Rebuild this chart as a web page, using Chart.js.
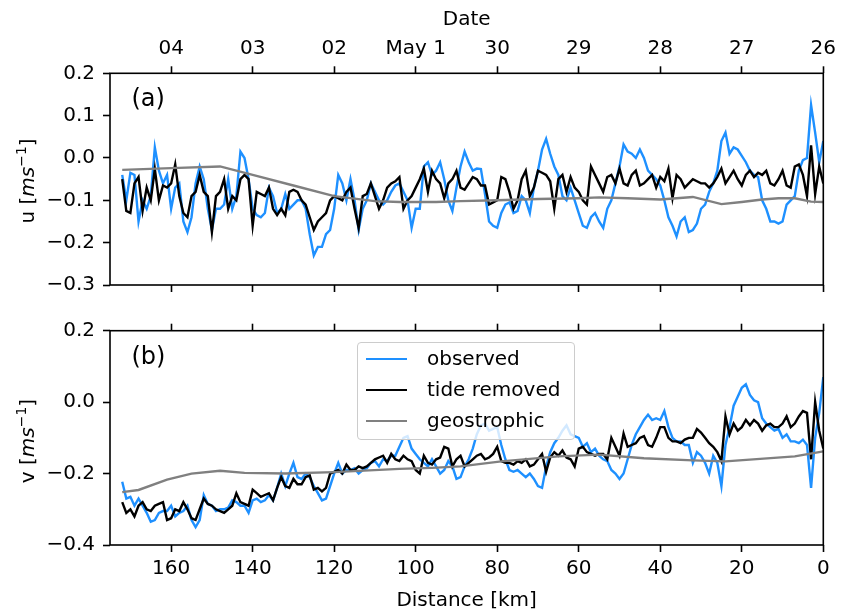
<!DOCTYPE html>
<html>
<head>
<meta charset="utf-8">
<script src="https://cdn.jsdelivr.net/npm/chart.js@4.4.0/dist/chart.umd.min.js"></script>
<style>
  body { margin: 0; background: #fff; }
  #wrap { position: relative; width: 850px; height: 609px; overflow: hidden; font-family: "DejaVu Sans", sans-serif; }
  canvas { position: absolute; left: 0; }
  .ytitle { position: absolute; transform: translate(-50%, -50%) rotate(-90deg); white-space: nowrap; font-size: 20px; line-height: 1; color: #000; }
  .ytitle sup { font-size: 14px; line-height: 0; }
  #legend { position: absolute; left: 357px; top: 342px; width: 218px; height: 98px; box-sizing: border-box;
            border: 1px solid #cccccc; border-radius: 4px; background: rgba(255,255,255,0.8); }
  .row { position: absolute; left: 0; height: 0; }
  .row .swatch { position: absolute; left: 8px; width: 41px; height: 2.4px; top: -1.2px; }
  .row .txt { position: absolute; left: 69px; top: -13px; font-size: 20px; line-height: 24px; white-space: nowrap; color: #000; }
</style>
</head>
<body>
<div id="wrap">
  <canvas id="chartU" width="850" height="305" style="top:0px"></canvas>
  <canvas id="chartV" width="850" height="304" style="top:305px"></canvas>
  <div class="ytitle" style="left:27px;top:181px">u [<i>ms</i><sup>−1</sup>]</div>
  <div class="ytitle" style="left:27px;top:441px">v [<i>ms</i><sup>−1</sup>]</div>
  <div id="legend"></div>
</div>
<script>
// distance along track, km (172 -> 0, one sample per km)
const distKm = Array.from({ length: 173 }, (_, i) => 172 - i);

// panel (a): u component
const uObserved = [
  -0.04, -0.10, -0.035, -0.04, -0.15, -0.10, -0.12, -0.09, 0.025, -0.03,
  -0.06, -0.04, -0.12, -0.07, -0.06, -0.15, -0.175, -0.14, -0.06, -0.02,
  -0.05, -0.12, -0.17, -0.12, -0.12, -0.11, -0.05, -0.12, -0.09, 0.015,
  0.0, -0.05, -0.12, -0.135, -0.14, -0.13, -0.07, -0.09, -0.13, -0.12,
  -0.085, -0.12, -0.11, -0.10, -0.10, -0.12, -0.18, -0.23, -0.21, -0.21,
  -0.18, -0.17, -0.12, -0.04, -0.06, -0.10, -0.05, -0.10, -0.17, -0.12,
  -0.10, -0.06, -0.08, -0.10, -0.11, -0.10, -0.08, -0.065, -0.06, -0.08,
  -0.10, -0.165, -0.12, -0.12, -0.02, -0.01, -0.04, -0.03, -0.01, -0.05,
  -0.10, -0.125, -0.07, -0.02, 0.015, -0.01, -0.03, -0.025, -0.026, -0.085,
  -0.15, -0.16, -0.165, -0.13, -0.11, -0.105, -0.13, -0.125, -0.09, -0.10,
  -0.13, -0.07, -0.03, 0.02, 0.045, 0.01, -0.02, -0.04, -0.09, -0.10,
  -0.07, -0.10, -0.13, -0.16, -0.165, -0.14, -0.13, -0.15, -0.165, -0.12,
  -0.10, -0.06, -0.02, 0.032, 0.015, 0.01, 0.0, 0.02, 0.0, -0.03,
  -0.04, -0.05, -0.065, -0.10, -0.14, -0.16, -0.185, -0.15, -0.14, -0.175,
  -0.17, -0.155, -0.12, -0.11, -0.08, -0.06, -0.03, 0.04, 0.06, 0.01,
  0.025, 0.02, 0.005, -0.01, -0.03, -0.04, -0.045, -0.10, -0.12, -0.15,
  -0.15, -0.155, -0.15, -0.11, -0.10, -0.09, -0.03, -0.005, 0.0, 0.125,
  0.06, -0.01, 0.04
];
const uTideRemoved = [
  -0.05, -0.125, -0.13, -0.06, -0.045, -0.125, -0.07, -0.10, -0.026, -0.10,
  -0.065, -0.07, -0.06, -0.015, -0.09, -0.13, -0.14, -0.09, -0.08, -0.04,
  -0.08, -0.09, -0.175, -0.09, -0.08, -0.05, -0.12, -0.09, -0.10, -0.05,
  -0.04, -0.05, -0.16, -0.08, -0.085, -0.09, -0.07, -0.12, -0.135, -0.12,
  -0.135, -0.08, -0.075, -0.08, -0.10, -0.11, -0.14, -0.17, -0.15, -0.14,
  -0.13, -0.10, -0.09, -0.095, -0.10, -0.08, -0.07, -0.12, -0.165, -0.09,
  -0.085, -0.06, -0.09, -0.12, -0.10, -0.07, -0.06, -0.055, -0.045, -0.12,
  -0.10, -0.09, -0.07, -0.05, -0.025, -0.08, -0.03, -0.05, -0.06, -0.095,
  -0.06, -0.05, -0.03, -0.07, -0.075, -0.06, -0.045, -0.05, -0.065, -0.065,
  -0.11, -0.105, -0.10, -0.045, -0.05, -0.08, -0.12, -0.10, -0.05, -0.03,
  -0.09, -0.07, -0.03, -0.035, -0.04, -0.055, -0.12, -0.05, -0.04, -0.08,
  -0.045, -0.07, -0.08, -0.10, -0.11, -0.02, -0.04, -0.06, -0.08, -0.045,
  -0.04, -0.06, -0.025, -0.06, -0.065, -0.04, -0.03, -0.065, -0.06, -0.05,
  -0.04, -0.07, -0.045, -0.055, -0.025, -0.095, -0.04, -0.05, -0.07, -0.06,
  -0.05, -0.055, -0.06, -0.06, -0.07, -0.06, -0.045, -0.025, -0.06, -0.045,
  -0.03, -0.05, -0.065, -0.04, -0.03, -0.045, -0.035, -0.04, -0.03, -0.06,
  -0.065, -0.05, -0.03, -0.065, -0.07, -0.02, -0.015, -0.04, -0.09, 0.03,
  -0.085, -0.02, -0.06
];
const uGeoDist = [172, 160, 148, 140, 130, 120, 110, 104, 95, 89, 80, 70, 60, 55, 48, 40, 32, 25, 20, 15, 11, 7, 3, 0];
const uGeostrophic = [-0.028, -0.024, -0.02, -0.04, -0.065, -0.09, -0.102, -0.104, -0.104, -0.102, -0.10, -0.097,
  -0.095, -0.093, -0.095, -0.098, -0.092, -0.109, -0.104, -0.098, -0.095, -0.095, -0.103, -0.104];

// panel (b): v component
const vObserved = [
  -0.223, -0.27, -0.265, -0.29, -0.27, -0.29, -0.31, -0.335, -0.33, -0.31,
  -0.305, -0.305, -0.29, -0.32, -0.31, -0.305, -0.29, -0.33, -0.35, -0.33,
  -0.26, -0.285, -0.29, -0.305, -0.30, -0.30, -0.295, -0.275, -0.28, -0.29,
  -0.29, -0.31, -0.275, -0.27, -0.28, -0.275, -0.26, -0.275, -0.24, -0.20,
  -0.235, -0.20, -0.17, -0.21, -0.215, -0.20, -0.21, -0.235, -0.255, -0.275,
  -0.27, -0.235, -0.20, -0.17, -0.20, -0.19, -0.19, -0.185, -0.20, -0.19,
  -0.185, -0.17, -0.165, -0.18, -0.16, -0.165, -0.15, -0.15, -0.125, -0.10,
  -0.095, -0.13, -0.145, -0.16, -0.17, -0.18, -0.16, -0.18, -0.20, -0.19,
  -0.165, -0.18, -0.215, -0.21, -0.18, -0.16, -0.13, -0.09, -0.065, -0.06,
  -0.08, -0.075, -0.07, -0.12, -0.16, -0.19, -0.195, -0.19, -0.20, -0.21,
  -0.20, -0.215, -0.235, -0.24, -0.18, -0.14, -0.115, -0.10, -0.08, -0.065,
  -0.09, -0.095, -0.10, -0.125, -0.115, -0.14, -0.13, -0.15, -0.16, -0.165,
  -0.19, -0.20, -0.215, -0.20, -0.16, -0.12, -0.09, -0.07, -0.05, -0.035,
  -0.05, -0.045, -0.05, -0.025, -0.07, -0.10, -0.11, -0.11, -0.12, -0.12,
  -0.17, -0.14, -0.15, -0.17, -0.20, -0.15, -0.17, -0.235, -0.12, -0.07,
  -0.01, 0.015, 0.04, 0.05, 0.02, 0.005, 0.0, -0.045, -0.06, -0.07,
  -0.08, -0.075, -0.10, -0.09, -0.11, -0.11, -0.115, -0.105, -0.12, -0.24,
  -0.10, -0.03, 0.07
];
const vTideRemoved = [
  -0.28, -0.31, -0.30, -0.32, -0.29, -0.28, -0.30, -0.305, -0.29, -0.285,
  -0.28, -0.33, -0.325, -0.30, -0.305, -0.28, -0.30, -0.325, -0.33, -0.30,
  -0.27, -0.285, -0.29, -0.30, -0.305, -0.31, -0.30, -0.29, -0.255, -0.28,
  -0.285, -0.29, -0.245, -0.255, -0.265, -0.26, -0.255, -0.275, -0.24, -0.21,
  -0.235, -0.24, -0.215, -0.23, -0.23, -0.21, -0.205, -0.245, -0.24, -0.25,
  -0.24, -0.20, -0.195, -0.19, -0.20, -0.175, -0.19, -0.19, -0.18, -0.185,
  -0.18, -0.17, -0.16, -0.155, -0.15, -0.17, -0.145, -0.16, -0.165, -0.15,
  -0.16, -0.165, -0.19, -0.20, -0.15, -0.17, -0.175, -0.16, -0.155, -0.125,
  -0.13, -0.18, -0.16, -0.15, -0.18, -0.17, -0.16, -0.15, -0.145, -0.16,
  -0.155, -0.145, -0.125, -0.165, -0.17, -0.17, -0.175, -0.165, -0.17, -0.16,
  -0.18, -0.175, -0.16, -0.145, -0.195, -0.155, -0.14, -0.15, -0.135, -0.155,
  -0.16, -0.18, -0.13, -0.125, -0.14, -0.145, -0.15, -0.145, -0.145, -0.16,
  -0.10, -0.125, -0.15, -0.088, -0.125, -0.12, -0.115, -0.10, -0.095, -0.12,
  -0.125, -0.10, -0.07, -0.07, -0.10, -0.11, -0.11, -0.115, -0.105, -0.10,
  -0.10, -0.075, -0.085, -0.10, -0.115, -0.125, -0.14, -0.165, -0.04, -0.09,
  -0.06, -0.08, -0.07, -0.05, -0.065, -0.05, -0.06, -0.08, -0.065, -0.06,
  -0.07, -0.07, -0.06, -0.04, -0.07, -0.06, -0.04, -0.025, -0.03, -0.16,
  0.0, -0.08, -0.13
];
const vGeoDist = [172, 168, 161, 155, 148, 142, 132, 120, 104, 96, 89, 79, 65, 55, 44, 32, 24, 7, 0];
const vGeostrophic = [-0.252, -0.246, -0.217, -0.2, -0.192, -0.198, -0.2, -0.196, -0.187, -0.184, -0.18, -0.166,
  -0.152, -0.147, -0.157, -0.163, -0.166, -0.152, -0.138];

// axes
const distTicks = [0, 20, 40, 60, 80, 100, 120, 140, 160];
const dateLabels = ["26", "27", "28", "29", "30", "May 1", "02", "03", "04"];
const uTicks = [-0.3, -0.2, -0.1, 0.0, 0.1, 0.2];
const vTicks = [-0.4, -0.2, 0.0, 0.2];

const seriesNames = ["observed", "tide removed", "geostrophic"];
const seriesColors = ["#1e90ff", "#000000", "#808080"];

Chart.defaults.font.family = "'DejaVu Sans', sans-serif";
Chart.defaults.font.size = 20;
Chart.defaults.color = "#000";

const fmt = (v) => (Math.abs(v) < 1e-9 ? 0 : v).toFixed(1).replace("-", "\u2212");
const pts = (xs, ys) => xs.map((x, i) => ({ x: x, y: ys[i] }));

const tickGrid = { display: true, drawOnChartArea: false, drawTicks: true, tickLength: 7, tickWidth: 1.6, tickColor: "#000" };

// black box round the plot area, plus the (a)/(b) tag
const framePlugin = {
  id: "frame",
  afterDatasetsDraw(chart, args, opts) {
    const { ctx, chartArea: a } = chart;
    ctx.save();
    ctx.strokeStyle = "#000";
    ctx.lineWidth = 1.6;
    ctx.strokeRect(a.left, a.top, a.right - a.left, a.bottom - a.top);
    ctx.fillStyle = "#000";
    ctx.font = "24px 'DejaVu Sans'";
    ctx.textBaseline = "alphabetic";
    ctx.fillText(opts.tag, a.left + 0.03 * (a.right - a.left), a.bottom - 0.845 * (a.bottom - a.top));
    ctx.restore();
  }
};

function makeChart(id, cfg) {
  const lines = [
    { data: pts(distKm, cfg.obs), color: seriesColors[0], order: 3 },
    { data: pts(distKm, cfg.tide), color: seriesColors[1], order: 2 },
    { data: pts(cfg.geoDist, cfg.geo), color: seriesColors[2], order: 1 }
  ];
  return new Chart(document.getElementById(id), {
    type: "line",
    data: {
      datasets: lines.map((l, i) => ({
        label: seriesNames[i],
        data: l.data,
        borderColor: l.color,
        borderWidth: 2.4,
        pointRadius: 0,
        tension: 0,
        fill: false,
        order: l.order,
        xAxisID: "x",
        yAxisID: "y"
      }))
    },
    plugins: [framePlugin],
    options: {
      responsive: false,
      animation: false,
      layout: { padding: { left: 0, right: 26.7, top: 0, bottom: 0 } },
      plugins: { legend: { display: false }, tooltip: { enabled: false }, frame: { tag: cfg.tag } },
      scales: {
        x: {
          type: "linear", position: "bottom", min: 0, max: 175, reverse: true,
          afterBuildTicks: (s) => { s.ticks = distTicks.map((v) => ({ value: v })); },
          afterFit: (s) => { s.height = cfg.bottomH; },
          ticks: { display: cfg.bottomLabels, padding: 5, maxRotation: 0 },
          title: { display: cfg.bottomLabels, text: "Distance [km]", padding: { top: 0, bottom: -4 } },
          grid: tickGrid,
          border: { display: false }
        },
        x2: {
          type: "linear", position: "top", min: 0, max: 175, reverse: true,
          afterBuildTicks: (s) => { s.ticks = distTicks.map((v) => ({ value: v })); },
          afterFit: (s) => { s.height = cfg.topH; },
          ticks: { display: cfg.topLabels, padding: 6, maxRotation: 0, autoSkip: false,
                   callback: (v) => dateLabels[distTicks.indexOf(v)] },
          title: { display: cfg.topLabels, text: "Date", padding: { top: 8, bottom: 0 } },
          grid: tickGrid,
          border: { display: false }
        },
        y: {
          type: "linear", position: "left", min: cfg.yMin, max: cfg.yMax,
          afterBuildTicks: (s) => { s.ticks = cfg.yTicks.map((v) => ({ value: v })); },
          afterFit: (s) => { s.width = 110; },
          ticks: { padding: 8, callback: (v) => fmt(v) },
          grid: tickGrid,
          border: { display: false }
        }
      }
    }
  });
}

makeChart("chartU", {
  obs: uObserved, tide: uTideRemoved, geoDist: uGeoDist, geo: uGeostrophic,
  yMin: -0.3, yMax: 0.2, yTicks: uTicks, tag: "(a)",
  topH: 73.3, bottomH: 305 - 287.3, topLabels: true, bottomLabels: false
});

makeChart("chartV", {
  obs: vObserved, tide: vTideRemoved, geoDist: vGeoDist, geo: vGeostrophic,
  yMin: -0.4, yMax: 0.2, yTicks: vTicks, tag: "(b)",
  topH: 330.7 - 305, bottomH: 609 - 545, topLabels: false, bottomLabels: true
});

// legend box inside panel (b)
const legend = document.getElementById("legend");
seriesNames.forEach((name, i) => {
  const row = document.createElement("div");
  row.className = "row";
  row.style.top = (16 + i * 31) + "px";
  row.innerHTML = `<div class="swatch" style="background:${seriesColors[i]}"></div><div class="txt">${name}</div>`;
  legend.appendChild(row);
});
</script>
</body>
</html>
